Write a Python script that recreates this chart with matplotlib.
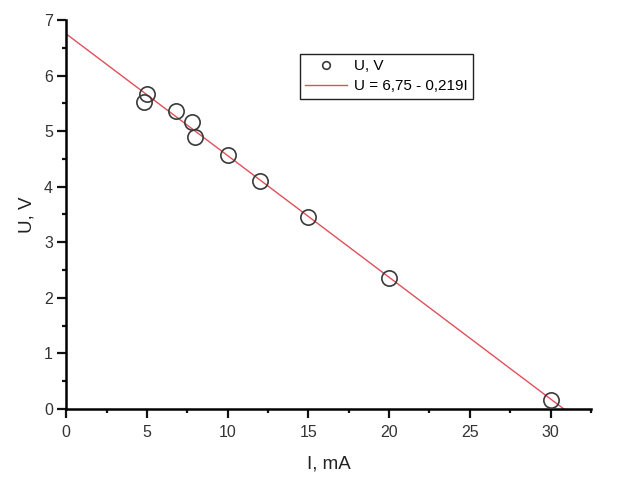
import matplotlib
matplotlib.use("Agg")
import matplotlib.pyplot as plt
import numpy as np
from matplotlib.ticker import MultipleLocator

plt.rcParams['font.family'] = ['Liberation Sans', 'DejaVu Sans']

I_mA = [4.8, 5.0, 6.8, 7.8, 8.0, 10, 12, 15, 20, 30]
U_V = [5.53, 5.66, 5.36, 5.17, 4.90, 4.57, 4.11, 3.46, 2.36, 0.17]
fit_a = 6.75
fit_b = 0.219
fit_label = "U = 6,75 - 0,219I"

fig = plt.figure(figsize=(6.24, 4.8), dpi=100)
ax = fig.add_axes([0.106, 0.148, 0.841, 0.8104])

xf = np.array([0, fit_a / fit_b])
ax.plot(I_mA, U_V, 'o', mfc='none', mec='#3a3a3a', ms=11, mew=1.2, label='U, V', zorder=3)
ax.plot(xf, fit_a - fit_b * xf, color='#e0505a', lw=1.0, label=fit_label, zorder=2)

ax.set_xlim(0, 32.5)
ax.set_ylim(0, 7)
ax.xaxis.set_major_locator(MultipleLocator(5))
ax.xaxis.set_minor_locator(MultipleLocator(2.5))
ax.yaxis.set_major_locator(MultipleLocator(1))
ax.yaxis.set_minor_locator(MultipleLocator(0.5))
for s in ['top', 'right']:
    ax.spines[s].set_visible(False)
for s in ['left', 'bottom']:
    ax.spines[s].set_linewidth(1.8)
ax.tick_params(which='major', direction='out', length=6.5, width=1.6, labelsize=11.5,
               labelcolor='#333333', color='#111111')
ax.tick_params(axis='x', which='major', pad=5)
ax.tick_params(axis='y', which='major', pad=3)
ax.tick_params(which='minor', direction='out', length=3, width=1.6, color='#111111')
ax.set_xlabel('I, mA', fontsize=13.5, labelpad=11, color='#222222')
ax.set_ylabel('U, V', fontsize=13.5, labelpad=6, color='#222222')

leg = ax.legend(loc='upper left', bbox_to_anchor=(0.4457, 0.9126), borderaxespad=0,
                prop={'size': 11},
                frameon=True, fancybox=False, edgecolor='#222222', framealpha=1,
                handlelength=2.75, borderpad=0.35, labelspacing=0.4, handletextpad=0.4,
                markerscale=0.5)
leg.get_frame().set_linewidth(1.0)

fig.savefig('out.png', dpi=100)
